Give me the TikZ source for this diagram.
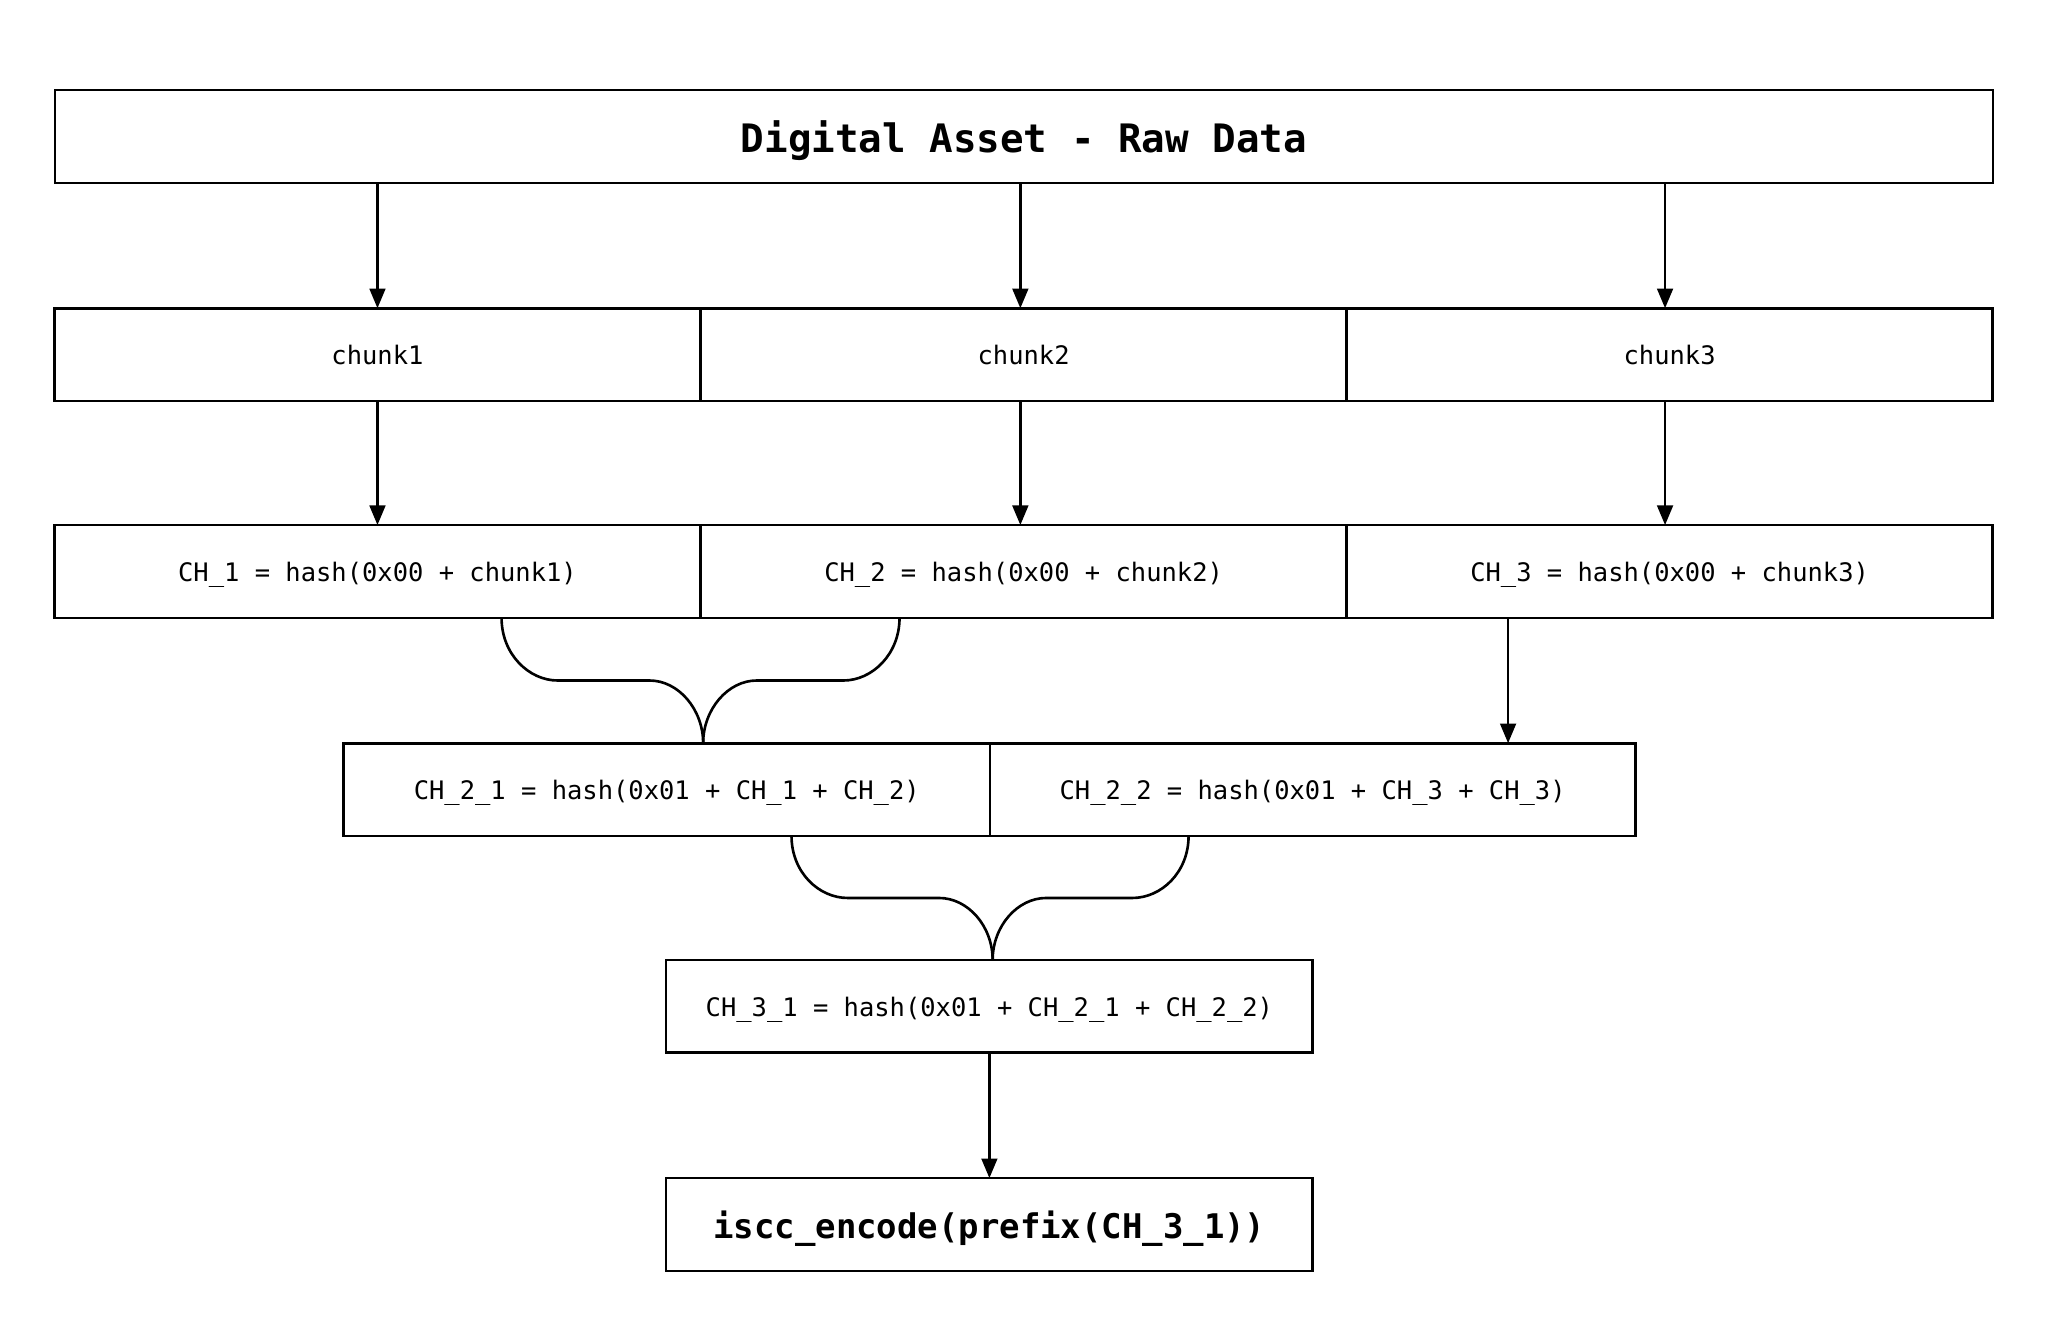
\documentclass[tikz,border=0pt]{standalone}
\usepackage{fontspec}
\setmonofont{DejaVu Sans Mono}
\usetikzlibrary{arrows.meta,calc}
\begin{document}
\begin{tikzpicture}[x=1pt,y=-1pt,
  box/.style={draw,line width=2pt,inner sep=0pt,outer sep=0pt,minimum height=71pt,text depth=0pt,
    font=\ttfamily\fontsize{19.5}{24}\selectfont},
  arr/.style={line width=2pt,-{Triangle[length=15pt,width=12pt]}},
  link/.style={line width=2pt}]
\useasboundingbox (0,0) rectangle (1568,1013);
\node[box,minimum width=1484pt,font=\ttfamily\bfseries\fontsize{30}{36}\selectfont] (raw) at (784,104.5) {Digital Asset - Raw Data};
\node[box,minimum width=494.7pt] (c1) at (289,271.5) {chunk1};
\node[box,minimum width=494.7pt] (c2) at (783.7,271.5) {chunk2};
\node[box,minimum width=494.7pt] (c3) at (1278.3,271.5) {chunk3};
\node[box,minimum width=494.7pt] (h1) at (289,437.5) {CH\_1 = hash(0x00 + chunk1)};
\node[box,minimum width=494.7pt] (h2) at (783.7,437.5) {CH\_2 = hash(0x00 + chunk2)};
\node[box,minimum width=494.7pt] (h3) at (1278.3,437.5) {CH\_3 = hash(0x00 + chunk3)};
\node[box,minimum width=495pt] (h21) at (510.5,604.5) {CH\_2\_1 = hash(0x01 + CH\_1 + CH\_2)};
\node[box,minimum width=494pt] (h22) at (1005,604.5) {CH\_2\_2 = hash(0x01 + CH\_3 + CH\_3)};
\node[box,minimum width=495pt] (h31) at (757.5,770.5) {CH\_3\_1 = hash(0x01 + CH\_2\_1 + CH\_2\_2)};
\node[box,minimum width=495pt,font=\ttfamily\bfseries\fontsize{26}{32}\selectfont] (enc) at (757.5,937.5) {iscc\_encode(prefix(CH\_3\_1))};
% arrows
\foreach \c/\h/\dx in {c1/h1/0,c2/h2/-2.5,c3/h3/-3.5}{
  \coordinate (\c t) at ($(\c.north)+(\dx,0)$);
  \coordinate (\c b) at ($(\c.south)+(\dx,0)$);
  \draw[arr] (raw.south -| \c t) -- (\c t);
  \draw[arr] (\c b) -- (\c b |- \h.north);
}
\coordinate (p3) at ($(h3.south west)!0.25!(h3.south east)$);
\draw[arr] (p3) -- (p3 |- h22.north);
\draw[arr] (h31.south) -- (enc.north);
% brace 1
\coordinate (b1l) at ($(h1.south)+(95,0)$);
\coordinate (b1r) at ($(h2.south)+(-95,0)$);
\coordinate (m1) at ($(h1.south east |- h21.north)+(2,0)$);
\draw[link] (b1l) .. controls +(0,28) and +(-22,0) .. ++(43,48)
  -- ($(m1)+(-41,-48)$) .. controls +(22,0) and +(0,-26) .. (m1);
\draw[link] (b1r) .. controls +(0,28) and +(22,0) .. ++(-43,48)
  -- ($(m1)+(41,-48)$) .. controls +(-22,0) and +(0,-26) .. (m1);
% brace 2
\coordinate (b2l) at ($(h21.south)+(95.5,0)$);
\coordinate (b2r) at ($(h22.south)+(-95,0)$);
\coordinate (m2) at ($(h21.south east |- h31.north)+(2,0)$);
\draw[link] (b2l) .. controls +(0,28) and +(-22,0) .. ++(43,47.5)
  -- ($(m2)+(-41,-47.5)$) .. controls +(22,0) and +(0,-26) .. (m2);
\draw[link] (b2r) .. controls +(0,28) and +(22,0) .. ++(-43,47.5)
  -- ($(m2)+(41,-47.5)$) .. controls +(-22,0) and +(0,-26) .. (m2);
\end{tikzpicture}
\end{document}
